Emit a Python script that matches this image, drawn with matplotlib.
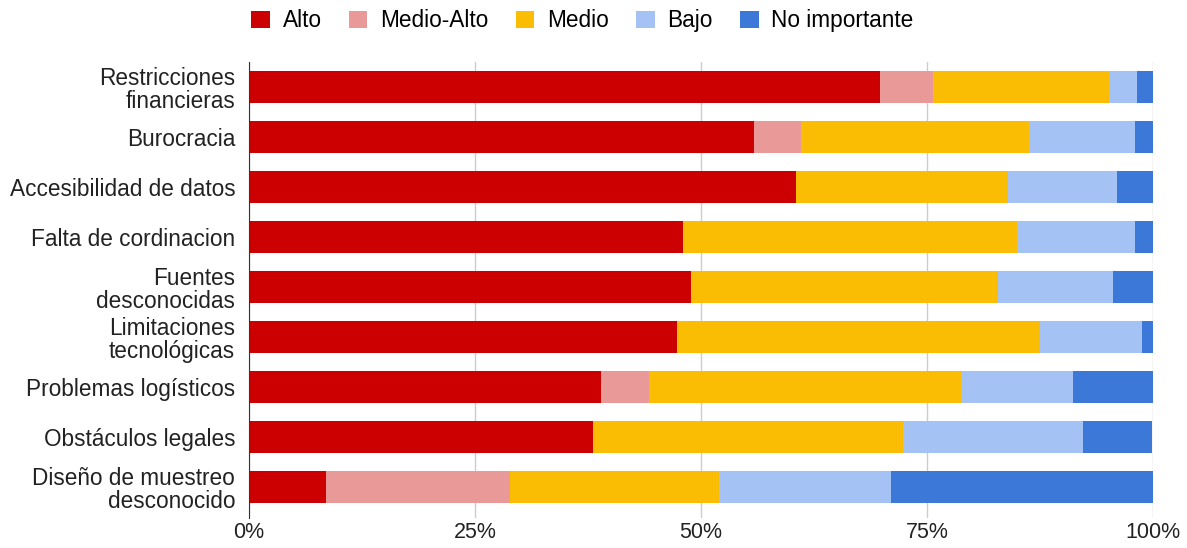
import matplotlib.pyplot as plt
from matplotlib.patches import Patch
from matplotlib.ticker import FuncFormatter

plt.rcParams['font.family'] = ['Liberation Sans', 'DejaVu Sans']

categories = [
    'Restricciones\nfinancieras',
    'Burocracia',
    'Accesibilidad de datos',
    'Falta de cordinacion',
    'Fuentes\ndesconocidas',
    'Limitaciones\ntecnológicas',
    'Problemas logísticos',
    'Obstáculos legales',
    'Diseño de muestreo\ndesconocido',
]
alto = [69.8, 55.9, 60.5, 48.0, 48.9, 47.3, 38.9, 38.1, 8.5]
medio_alto = [5.9, 5.2, 0, 0, 0, 0, 5.3, 0, 20.4]
medio = [19.4, 25.2, 23.5, 37.0, 34.0, 40.2, 34.6, 34.2, 23.1]
bajo = [3.1, 11.7, 12.0, 13.0, 12.7, 11.3, 12.4, 19.9, 19.0]
no_importante = [1.8, 2.0, 4.0, 2.0, 4.4, 1.2, 8.8, 7.7, 29.0]

series = [
    ('Alto', alto, '#cc0000'),
    ('Medio-Alto', medio_alto, '#ea9999'),
    ('Medio', medio, '#fbbc04'),
    ('Bajo', bajo, '#a4c2f4'),
    ('No importante', no_importante, '#3c78d8'),
]

fig = plt.figure(figsize=(11.87, 5.48), dpi=100)
ax = fig.add_axes([0.2098, 0.0547, 0.7616, 0.8321])

y = list(range(len(categories)))
left = [0] * len(categories)
for name, vals, color in series:
    ax.barh(y, vals, left=left, height=0.64, color=color, label=name, zorder=3)
    left = [l + v for l, v in zip(left, vals)]

ax.set_ylim(len(categories) - 0.38, -0.5)
ax.set_xlim(0, 100)
ax.set_yticks(y)
ax.set_yticklabels(categories, fontsize=16.3, color='#222222', linespacing=1.0)
ax.set_xticks([0, 25, 50, 75, 100])
ax.xaxis.set_major_formatter(FuncFormatter(lambda v, p: f'{int(v)}%'))
ax.tick_params(axis='x', labelsize=15.5, colors='#222222', length=0, pad=3)
ax.tick_params(axis='y', length=0, pad=10)
ax.grid(axis='x', color='#cccccc', linewidth=1, zorder=0)
for s in ['top', 'right', 'bottom']:
    ax.spines[s].set_visible(False)
ax.spines['left'].set_color('#333333')
ax.spines['left'].set_zorder(4)

handles = [Patch(facecolor=c, label=n) for n, v, c in series]
fig.legend(handles=handles, loc='center left', bbox_to_anchor=(0.2115, 0.962), ncol=5,
           frameon=False, fontsize=16.3, handlelength=0.82, handleheight=0.82,
           handletextpad=0.57, columnspacing=1.2, borderpad=0, borderaxespad=0)

plt.savefig('out.png')
